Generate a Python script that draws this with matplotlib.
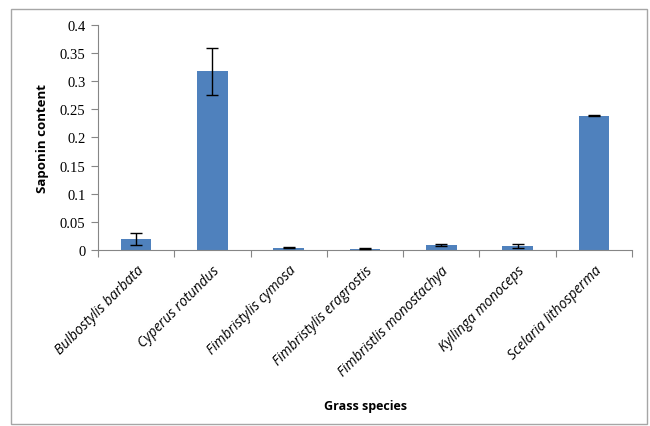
import matplotlib.pyplot as plt
from matplotlib.patches import Rectangle

species = ['Bulbostylis barbata', 'Cyperus rotundus', 'Fimbristylis cymosa',
           'Fimbristylis eragrostis', 'Fimbristlis monostachya',
           'Kyllinga monoceps', 'Scelaria lithosperma']
saponin = [0.020, 0.318, 0.004, 0.002, 0.009, 0.007, 0.239]
err = [0.011, 0.042, 0.001, 0.001, 0.002, 0.003, 0.001]
yticks = [0, 0.05, 0.1, 0.15, 0.2, 0.25, 0.3, 0.35, 0.4]

fig = plt.figure(figsize=(6.5, 4.27), dpi=100)
fig.patches.append(Rectangle((11 / 650, 2 / 427), 636 / 650, 415 / 427,
                             transform=fig.transFigure, fill=False,
                             edgecolor='#a6a6a6', linewidth=1))
ax = fig.add_axes([0.1508, 0.4122, 0.8215, 0.5269])

x = range(len(species))
ax.bar(x, saponin, width=0.4, color='#4f81bd', zorder=2)
ax.errorbar(x, saponin, yerr=err, fmt='none', ecolor='black',
            elinewidth=1, capsize=4, capthick=1, zorder=3)

ax.set_xlim(-0.5, len(species) - 0.5)
ax.set_ylim(0, 0.4)
ax.set_yticks(yticks)
ax.set_yticklabels([f'{v:g}' for v in yticks], family='Liberation Serif', fontsize=10.5)

# category boundaries carry the tick marks, labels sit at bar centres
ax.set_xticks([i - 0.5 for i in range(len(species) + 1)])
ax.set_xticklabels([])
ax.set_xticks(list(x), minor=True)
ax.set_xticklabels(species, minor=True, rotation=45, ha='right',
                   rotation_mode='anchor', style='italic', fontsize=10,
                   family='Open Sans')
ax.tick_params(axis='x', which='minor', length=0, pad=9)
ax.tick_params(axis='x', which='major', length=5, color='#868686', direction='out')
ax.tick_params(axis='y', length=5, color='#868686', direction='out', pad=4)

for s in ['top', 'right']:
    ax.spines[s].set_visible(False)
for s in ['left', 'bottom']:
    ax.spines[s].set_color('#868686')

ax.set_ylabel('Saponin content', fontsize=9.5, fontweight='bold', family='Open Sans', labelpad=8)
fig.text(365 / 650, 0.04, 'Grass species', fontsize=9, fontweight='bold',
         family='Open Sans', ha='center')

fig.savefig('out.png', dpi=100)
